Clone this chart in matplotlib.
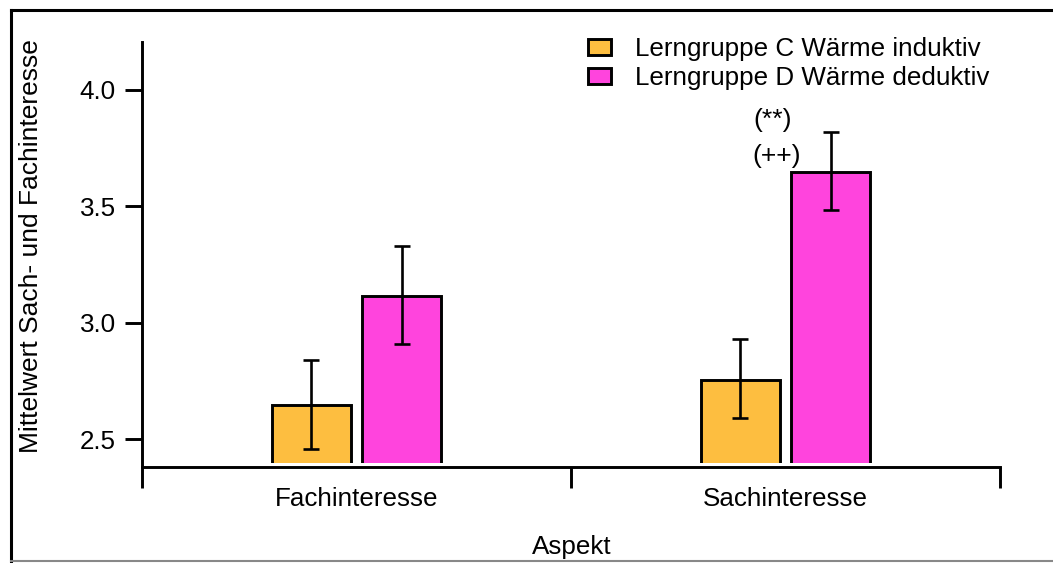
import matplotlib
matplotlib.use("Agg")
import matplotlib.pyplot as plt
from matplotlib.lines import Line2D
from matplotlib.patches import Patch
import numpy as np

plt.rcParams['font.family'] = ['Liberation Sans', 'DejaVu Sans']

categories = ["Fachinteresse", "Sachinteresse"]
groups = ["Lerngruppe C Wärme induktiv", "Lerngruppe D Wärme deduktiv"]
means = {
    "C": [2.645, 2.754],
    "D": [3.115, 3.646],
}
ci_low = {
    "C": [2.457, 2.589],
    "D": [2.908, 3.482],
}
ci_high = {
    "C": [2.840, 2.928],
    "D": [3.331, 3.819],
}
colors = {"C": "#FDBE40", "D": "#FF44DD"}
sig_labels = ["(**)", "(++)"]
yticks = [2.5, 3.0, 3.5, 4.0]

FS = 18.7
LW = 2.1

W, H = 1053, 563
fig = plt.figure(figsize=(W / 100, H / 100), dpi=100)
ax = fig.add_axes([142 / W, 1 - 463 / H, (1000 - 142) / W, (463 - 42) / H])

ylo, yhi = 2.397, 4.206
ax.set_ylim(ylo, yhi)
ax.set_xlim(0, 2)

centers = np.arange(len(categories)) + 0.5
offset = 0.105
width = 0.184
for key, sign in (("C", -1), ("D", 1)):
    xs = centers + sign * offset
    m = np.array(means[key])
    base = ylo - 0.05  # bar bottoms run below the clip edge, leaving them open
    ax.bar(xs, m - base, bottom=base, width=width, color=colors[key],
           edgecolor="black", linewidth=LW, zorder=2)
    err = np.vstack([m - np.array(ci_low[key]), np.array(ci_high[key]) - m])
    ax.errorbar(xs, m, yerr=err, fmt="none", ecolor="black", elinewidth=1.9,
                capsize=6, capthick=1.9, zorder=3)

# significance marks above the second category
ax.text(centers[1] - 0.03, 3.872, sig_labels[0], ha="center", va="center", fontsize=19)
ax.text(centers[1] - 0.02, 3.718, sig_labels[1], ha="center", va="center", fontsize=19)

# spines
for s in ("top", "right"):
    ax.spines[s].set_visible(False)
ax.spines["left"].set_linewidth(LW)
ax.spines["left"].set_bounds(ylo - 0.012, yhi)
ax.spines["bottom"].set_linewidth(LW)
ax.spines["bottom"].set_position(("outward", 3))

ax.set_yticks(yticks)
ax.set_yticklabels([f"{v:.1f}" for v in yticks], fontsize=FS)
ax.tick_params(axis="y", length=12, width=LW, pad=7)

ax.set_xticks([0, 1, 2])
ax.set_xticklabels(["", "", ""])
ax.tick_params(axis="x", which="major", length=15, width=LW, direction="out")
ax.set_xticks(centers, minor=True)
ax.set_xticklabels(categories, minor=True, fontsize=FS)
ax.tick_params(axis="x", which="minor", length=0, pad=14)

fig.text(572 / W, 1 - 547 / H, "Aspekt", ha="center", va="center", fontsize=FS)
fig.text(31 / W, 1 - 246 / H, "Mittelwert Sach- und Fachinteresse", ha="center",
         va="center", rotation=90, fontsize=19)

handles = [Patch(facecolor=colors[k], edgecolor="black", linewidth=LW) for k in ("C", "D")]
leg = fig.legend(handles, groups, loc="upper left",
                 bbox_to_anchor=(588 / W, 1 - 37 / H), frameon=False, fontsize=FS,
                 handlelength=0.9, handleheight=0.6, handletextpad=0.9,
                 labelspacing=0.2, borderaxespad=0, borderpad=0)

# outer frame
fig.add_artist(Line2D([11 / W, 11 / W], [0, 1 - 10 / H], color="black", lw=2.2,
                      transform=fig.transFigure))
fig.add_artist(Line2D([11 / W, 1], [1 - 10 / H, 1 - 10 / H], color="black", lw=2.2,
                      transform=fig.transFigure))
fig.add_artist(Line2D([11 / W, 1], [1 - 561 / H, 1 - 561 / H], color="#888888", lw=1.5,
                      transform=fig.transFigure))

fig.savefig("out.png", dpi=100)
